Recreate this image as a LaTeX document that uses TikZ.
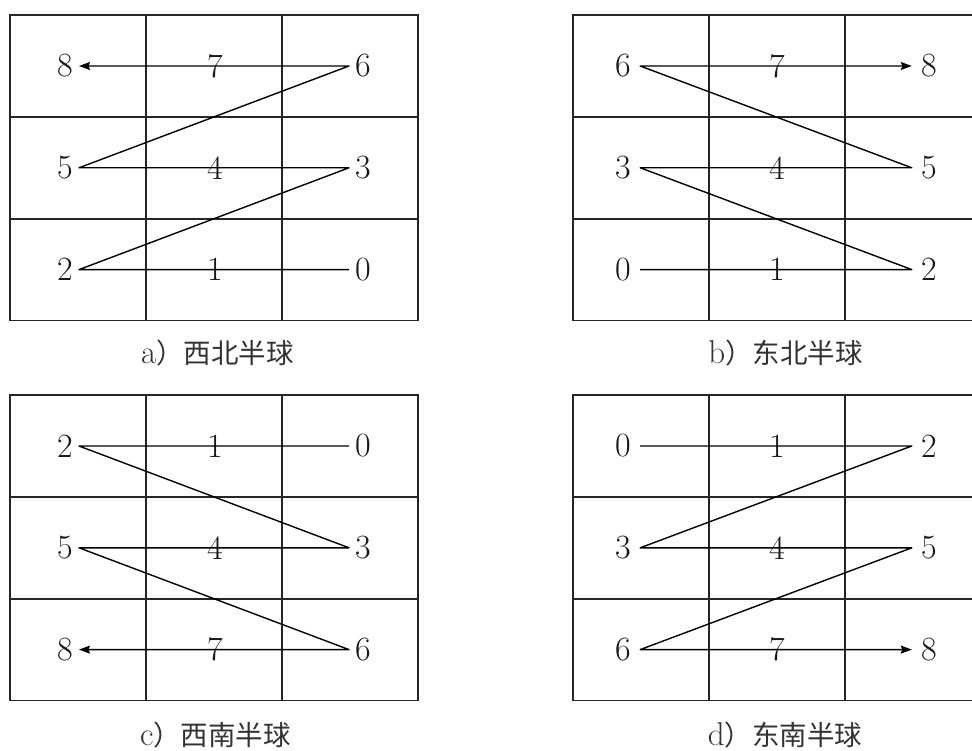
\documentclass[tikz,border=0pt]{standalone}
\usepackage{fontspec}
\newfontfamily\cjk{Noto Sans CJK SC}
\usetikzlibrary{arrows.meta}
\newcommand\hgrid[2]{%
  \draw[gridline] (#1,#2) rectangle ++(408,305.5);
  \draw[gridline] (#1+136,#2) -- ++(0,305.5);
  \draw[gridline] (#1+272,#2) -- ++(0,305.5);
  \draw[gridline] (#1,#2+101.8) -- ++(408,0);
  \draw[gridline] (#1,#2+203.7) -- ++(408,0);
}
\newcommand\caplat[1]{{\fontsize{33}{34}\selectfont #1}}
\begin{document}
\begin{tikzpicture}[x=1pt,y=-1pt,
  gridline/.style={line width=1.7pt, draw=black!85},
  conn/.style={line width=1.4pt, line join=round, -{Stealth[length=11pt,width=8pt,inset=1.5pt]}},
  digitl/.style={font=\fontsize{34}{40}\selectfont, inner xsep=6pt, inner ysep=2pt, text=black!90},
  digitr/.style={digitl, inner xsep=9.2pt},
  caption/.style={font=\fontsize{27.5}{30}\selectfont, inner sep=0pt, text=black!80}]
\useasboundingbox (0,0) rectangle (972,751);
\begin{scope}
\clip (0,0) rectangle (972,751);
\hgrid{10}{15}
\hgrid{573}{15}
\hgrid{10}{395}
\hgrid{573}{395}
\end{scope}
% grid a
\foreach \n/\x/\y in {8/65/66,7/215/66,6/363/66,5/65/167.8,4/215/167.8,3/363/167.8,2/65/269.6,1/215/269.6,0/363/269.6}
  \node[digitl] (a\n) at (\x,\y) {\n};
% grid b
\foreach \n/\x/\y in {6/623/66,7/777/66,8/929/66,3/623/167.8,4/777/167.8,5/929/167.8,0/623/269.6,1/777/269.6,2/929/269.6}
  \node[digitr] (b\n) at (\x,\y) {\n};
% grid c
\foreach \n/\x/\y in {2/65/446,1/215/446,0/363/446,5/65/547.8,4/215/547.8,3/363/547.8,8/65/649.6,7/215/649.6,6/363/649.6}
  \node[digitl] (c\n) at (\x,\y) {\n};
% grid d
\foreach \n/\x/\y in {0/623/446,1/777/446,2/929/446,3/623/547.8,4/777/547.8,5/929/547.8,6/623/649.6,7/777/649.6,8/929/649.6}
  \node[digitr] (d\n) at (\x,\y) {\n};
% connectors
\draw[conn] (a0.west) -- (a2.east) -- (a3.west) -- (a5.east) -- (a6.west) -- (a8.east);
\draw[conn] (b0.east) -- (b2.west) -- (b3.east) -- (b5.west) -- (b6.east) -- (b8.west);
\draw[conn] (c0.west) -- (c2.east) -- (c3.west) -- (c5.east) -- (c6.west) -- (c8.east);
\draw[conn] (d0.east) -- (d2.west) -- (d3.east) -- (d5.west) -- (d6.east) -- (d8.west);
% captions
\node[caption] (capa) at (217.5,353) {\caplat{a}\cjk）西北半球};
\node[caption] (capb) at (785.5,353) {\caplat{b}\cjk）东北半球};
\node[caption] (capc) at (215.5,735) {\caplat{c}\cjk）西南半球};
\node[caption] (capd) at (785,735) {\caplat{d}\cjk）东南半球};
\end{tikzpicture}
\end{document}
